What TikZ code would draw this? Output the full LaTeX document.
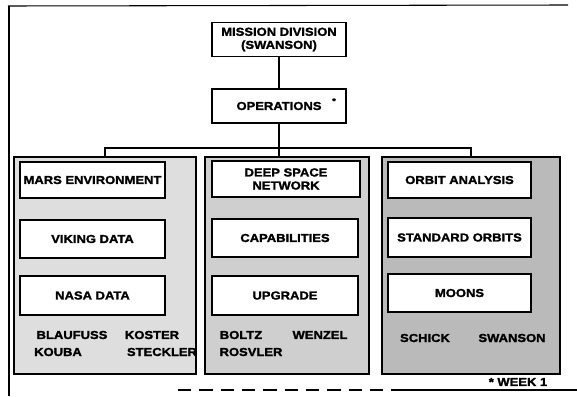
\documentclass[tikz,border=0pt]{standalone}
\usepackage{fontspec}
\newfontfamily\chartfont{Liberation Sans}[BoldFeatures={FakeStretch=1.12,FakeBold=1.6}]
\usepackage{tikz}
\usetikzlibrary{arrows,backgrounds}

\begin{document}
\begin{tikzpicture}[x=0.75pt,y=0.75pt,yscale=-1,xscale=1,
  every node/.style={font=\chartfont\bfseries\fontsize{8.7}{9.8}\selectfont},
  unitbox/.style={draw,line width=1.4pt,fill=white,inner sep=0.75pt,align=center},
  groupbox/.style={draw,line width=1.5pt,inner sep=0pt,minimum width=#1},
  staff/.style={anchor=center,inner sep=0.75pt}]
%set diagram left start at 0, and has height of 396
\useasboundingbox (0,0) rectangle (577,396);

%Straight Lines [frame]
\draw [line width=0.8pt]  (8,6) -- (568,5) ;
\draw [line width=0.8pt]  (9,6) -- (9,396) ;
\draw [line width=0.8pt,dash pattern=on 10pt off 6pt]  (178,390) -- (400,390) ;
\draw [line width=0.8pt]  (400,390) -- (577,390) ;

%Shape: Rectangle [mission]
\draw (279,39.5) node [unitbox,minimum width=100.5pt,minimum height=25.5pt] (mission) {MISSION DIVISION\\(SWANSON)};
%Shape: Rectangle [operations]
\draw (279,106) node [unitbox,minimum width=100.5pt,minimum height=25.5pt] (operations) {OPERATIONS};
% Text Node
\draw (334,101) node [staff,font=\chartfont\bfseries\fontsize{6}{7}\selectfont] (opsmark) {*};

%Shape: Rectangle [groups]
\draw (105,265.5) node [groupbox=136.5pt,minimum height=162.75pt,fill=black!13] (marsgroup) {};
\draw (287,265.5) node [groupbox=123pt,minimum height=162.75pt,fill=black!19] (dsngroup) {};
\draw (471,265.5) node [groupbox=133.5pt,minimum height=162.75pt,fill=black!27] (orbitgroup) {};

%Straight Lines [bus]
\coordinate (bus) at (279,148) ;
\draw [line width=1.1pt]  (mission) -- (operations) ;
\draw [line width=1.1pt]  (operations.south) -- (bus) ;
\draw [line width=1.1pt]  (bus) -| (marsgroup.north) ;
\draw [line width=1.1pt]  (bus) -| (orbitgroup.north) ;
\draw [line width=1.1pt]  (bus) -- (bus |- dsngroup.north) ;

%Shape: Rectangle [mars column]
\draw (92.5,180) node [unitbox,minimum width=108.75pt,minimum height=27pt] (mars) {MARS ENVIRONMENT};
\draw (92.5,239) node [unitbox,minimum width=108.75pt,minimum height=28.5pt] (viking) {VIKING DATA};
\draw (92.5,295.5) node [unitbox,minimum width=108.75pt,minimum height=29pt] (nasadata) {NASA DATA};

%Shape: Rectangle [dsn column]
\draw (286,179) node [unitbox,minimum width=111pt,minimum height=27pt] (dsn) {DEEP SPACE\\NETWORK};
\draw (285,238) node [unitbox,minimum width=109.5pt,minimum height=29pt] (capab) {CAPABILITIES};
\draw (285,295.5) node [unitbox,minimum width=109.5pt,minimum height=29pt] (upgrade) {UPGRADE};

%Shape: Rectangle [orbit column]
\draw (459.5,180) node [unitbox,minimum width=107.25pt,minimum height=27pt] (orbit) {ORBIT ANALYSIS};
\draw (459.5,237.5) node [unitbox,minimum width=107.25pt,minimum height=29pt] (stdorbits) {STANDARD ORBITS};
\draw (459.5,293) node [unitbox,minimum width=107.25pt,minimum height=28.5pt] (moons) {MOONS};

% Text Node
\draw (72,335) node [staff] (blaufuss) {BLAUFUSS};
% Text Node
\draw (152,335) node [staff] (koster) {KOSTER};
% Text Node
\draw (58,352) node [staff] (kouba) {KOUBA};
% Text Node
\draw (162,352) node [staff] (steckler) {STECKLER};
% Text Node
\draw (241,335) node [staff] (boltz) {BOLTZ};
% Text Node
\draw (320,335) node [staff] (wenzel) {WENZEL};
% Text Node
\draw (251,352) node [staff] (rosvler) {ROSVLER};
% Text Node
\draw (425,338) node [staff] (schick) {SCHICK};
% Text Node
\draw (512,338) node [staff] (swanson) {SWANSON};
% Text Node
\draw (518,382) node [staff] (weeknote) {* WEEK 1};

\end{tikzpicture}
\end{document}
